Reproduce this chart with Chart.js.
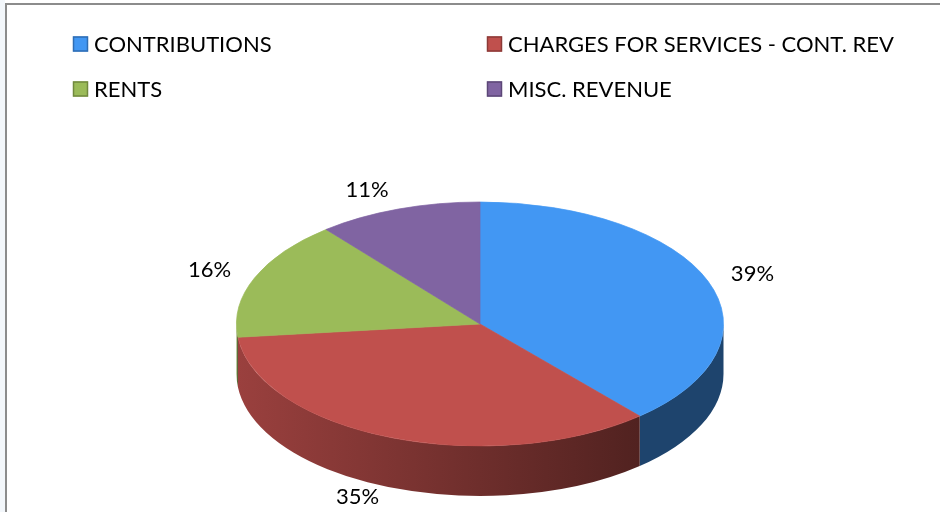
<!DOCTYPE html>
<html>
<head>
<meta charset="utf-8">
<script src="https://cdn.jsdelivr.net/npm/chart.js@4/dist/chart.umd.min.js"></script>
<style>
  html, body { margin: 0; padding: 0; background: #ffffff; }
  #wrap { position: relative; width: 940px; height: 512px; }
  canvas { display: block; }
</style>
</head>
<body>
<div id="wrap"><canvas id="c" width="940" height="512"></canvas></div>
<script>
// ---- data ----
const categories = ['CONTRIBUTIONS', 'CHARGES FOR SERVICES - CONT. REV', 'RENTS', 'MISC. REVENUE'];
const values = [39, 35, 16, 11];
const sliceColors = ['#4297f3', '#c0504d', '#9bbb59', '#8064a2'];
const legendBorders = ['#2f6db3', '#8c3a37', '#71893f', '#5c4777'];

const FONT = 'Lato, "Open Sans", sans-serif';

function shade(hex, f) {
  const n = parseInt(hex.slice(1), 16);
  const r = Math.round(((n >> 16) & 255) * f), g = Math.round(((n >> 8) & 255) * f), b = Math.round((n & 255) * f);
  return `rgb(${r},${g},${b})`;
}

const pie3d = {
  id: 'pie3d',
  beforeDraw(chart) {
    const ctx = chart.ctx;
    ctx.save();
    ctx.fillStyle = '#ffffff';
    ctx.fillRect(0, 0, chart.width, chart.height);
    ctx.fillStyle = '#f3f7fb';
    ctx.fillRect(0, 0, 5, chart.height);
    ctx.strokeStyle = '#8c8c8c';
    ctx.lineWidth = 2;
    ctx.beginPath();
    ctx.moveTo(6, chart.height);
    ctx.lineTo(6, 4);
    ctx.lineTo(chart.width, 4);
    ctx.stroke();
    ctx.restore();
  },
  beforeDatasetsDraw(chart, args, opts) {
    const ctx = chart.ctx;
    const meta = chart.getDatasetMeta(0);
    const { X, Y, RX, RY, D } = opts;
    // side walls (front half only)
    ctx.save();
    meta.data.forEach((arc, i) => {
      const p = arc.getProps(['startAngle', 'endAngle'], true);
      const a1 = Math.max(p.startAngle, 0), a2 = Math.min(p.endAngle, Math.PI);
      if (a2 <= a1) return;
      const base = chart.data.datasets[0].backgroundColor[i];
      const x1 = X + RX * Math.cos(a2), x2 = X + RX * Math.cos(a1);
      const g = ctx.createLinearGradient(x1, 0, x2, 0);
      g.addColorStop(0, shade(base, 0.8));
      g.addColorStop(1, shade(base, 0.42));
      ctx.fillStyle = (i === 0) ? shade(base, 0.45) : g;
      ctx.beginPath();
      ctx.ellipse(X, Y, RX, RY, 0, a1, a2, false);
      ctx.lineTo(X + RX * Math.cos(a2), Y + D + RY * Math.sin(a2));
      ctx.ellipse(X, Y + D, RX, RY, 0, a2, a1, true);
      ctx.closePath();
      ctx.fill();
    });
    // map the library's circle onto the tilted ellipse
    const a0 = meta.data[0];
    const c = a0.getProps(['x', 'y', 'outerRadius'], true);
    ctx.save();
    ctx.translate(X, Y);
    ctx.scale(RX / c.outerRadius, RY / c.outerRadius);
    ctx.translate(-c.x, -c.y);
  },
  afterDatasetsDraw(chart, args, opts) {
    const ctx = chart.ctx;
    ctx.restore();
    ctx.restore();
    const meta = chart.getDatasetMeta(0);
    const { X, Y, RX, RY, D } = opts;
    const data = chart.data.datasets[0].data;
    const total = data.reduce((s, v) => s + v, 0);
    ctx.save();
    ctx.font = '22px ' + FONT;
    ctx.fillStyle = '#000000';
    ctx.textAlign = 'center';
    ctx.textBaseline = 'middle';
    meta.data.forEach((arc, i) => {
      const p = arc.getProps(['startAngle', 'endAngle'], true);
      const m = (p.startAngle + p.endAngle) / 2;
      const cs = Math.cos(m), sn = Math.sin(m);
      const lx = X + cs * (RX + 40 + 60 * sn * sn);
      const ly = Y + sn * (RY + (sn < 0 ? 20 : 10)) + (sn > 0 ? D : 0);
      ctx.fillText(Math.round(data[i] / total * 100) + '%', lx, ly);
    });
    ctx.restore();
    // legend (two columns)
    ctx.save();
    ctx.font = '22px ' + FONT;
    ctx.textBaseline = 'middle';
    ctx.textAlign = 'left';
    const cols = [73, 487], rows = [44, 89];
    chart.data.labels.forEach((lab, i) => {
      const x = cols[i % 2], y = rows[Math.floor(i / 2)];
      ctx.fillStyle = chart.data.datasets[0].backgroundColor[i];
      ctx.fillRect(x, y - 7.5, 15, 15);
      ctx.strokeStyle = legendBorders[i];
      ctx.lineWidth = 1.5;
      ctx.strokeRect(x + 0.5, y - 7, 14, 14);
      ctx.fillStyle = '#000000';
      ctx.fillText(lab, x + 21, y + 1);
    });
    ctx.restore();
  }
};

new Chart(document.getElementById('c'), {
  type: 'pie',
  data: {
    labels: categories,
    datasets: [{
      data: values,
      backgroundColor: sliceColors,
      borderColor: sliceColors,
      borderWidth: 1
    }]
  },
  options: {
    responsive: false,
    animation: false,
    events: [],
    devicePixelRatio: 1,
    layout: { padding: 0 },
    plugins: {
      legend: { display: false },
      tooltip: { enabled: false },
      pie3d: { X: 480, Y: 324, RX: 243.5, RY: 122, D: 50 }
    }
  },
  plugins: [pie3d]
});
</script>
</body>
</html>
